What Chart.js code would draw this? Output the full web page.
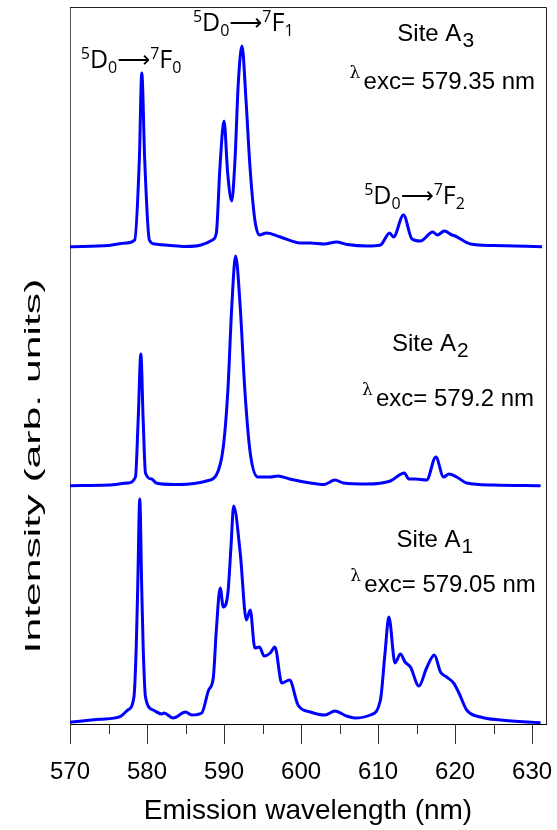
<!DOCTYPE html>
<html>
<head>
<meta charset="utf-8">
<script src="https://cdn.jsdelivr.net/npm/chart.js@4/dist/chart.umd.min.js"></script>
<style>
  html, body { margin: 0; padding: 0; background: #fff; }
  canvas { display: block; }
</style>
</head>
<body>
<canvas id="espectroChart" width="557" height="830"></canvas>
<script>
// ----------------------------------------------------------------------
// Data: emission wavelength (nm) and intensity (arb. units)
// ----------------------------------------------------------------------
const wlA1 = [570.0, 573.9, 576.5, 577.5, 578.3, 578.6, 578.8, 579.06, 579.3, 579.5, 579.8, 580.8, 581.9, 582.2, 583.4,
    585.0, 585.8, 587.1, 588.0, 588.6, 589.0, 589.5, 589.9, 590.5, 590.9, 591.25, 592.1, 592.9, 593.4, 594.0,
    594.6, 595.2, 596.0, 596.6, 597.5, 598.5, 599.6, 601.2, 603.1, 604.4, 605.9, 607.0, 609.0, 610.3, 610.9,
    611.4, 612.2, 612.9, 613.5, 614.2, 615.3, 616.3, 617.3, 618.1, 618.9, 619.8, 620.5, 621.5, 623.3, 625.9, 631.1];
const intA1 = [1.7, 4.7, 7.3, 14, 27, 77, 140, 225, 140, 77, 27, 14, 10, 11, 6,
    12, 9, 11, 34, 46, 94, 136, 117, 131, 177, 218, 171, 104, 114, 76,
    77, 68, 71, 77, 41, 44, 19, 12, 9, 13, 8, 6, 9, 24, 71,
    107, 61, 70, 62, 57, 38, 56, 69, 52, 47, 41, 31, 14, 7, 4, 1.3];

const wlA2 = [570.0, 575.0, 577.5, 578.5, 578.85, 579.2, 579.5, 579.8, 580.6, 581.2, 583.5, 585.5, 587.7, 589.0, 589.9,
    590.5, 591.0, 591.5, 592.1, 592.7, 593.4, 594.4, 596.0, 597.0, 598.5, 601.2, 603.0, 604.4, 605.5, 608.5,
    611.6, 613.4, 614.0, 614.8, 616.3, 617.5, 618.5, 619.2, 620.2, 621.5, 625.0, 631.1];
const intA2 = [0.3, 1, 3, 9, 66, 132, 66, 13, 7, 3, 1.5, 2, 5, 11, 39,
    96, 179, 230, 179, 96, 33, 9, 9, 10, 7, 3, 1.5, 6, 3, 2,
    5, 13, 7, 7, 6, 29, 9, 12, 9, 3, 1, 0.3];

const wlA3 = [570.0, 575.0, 577.3, 578.4, 579.0, 579.32, 579.7, 580.3, 581.0, 583.0, 585.0, 587.0, 588.5, 589.0, 589.47,
    590.0, 590.47, 591.0, 591.42, 591.85, 592.33, 592.85, 593.37, 594.0, 594.6, 595.5, 597.3, 599.9, 601.2, 603.0,
    604.6, 606.0, 608.6, 610.3, 611.5, 612.0, 613.3, 614.4, 615.5, 617.1, 617.7, 618.6, 619.6, 620.0, 622.0,
    625.0, 631.3];
const intA3 = [0.3, 1.5, 4, 7, 87, 174, 87, 7, 3, 1.5, 0.5, 2, 7, 14, 80,
    126, 74, 46, 87, 164, 201, 147, 80, 27, 12, 14, 10, 4, 4, 3,
    5, 2.5, 1, 2, 14, 10, 32, 8, 6, 15, 12, 16, 12, 11, 3,
    1.5, 0.3];

// vertical offsets used to stack the three spectra
const offsetA1 = 0;
const offsetA2 = 238;
const offsetA3 = 477;

const xTicks = [570, 580, 590, 600, 610, 620, 630];
const xMinorTicks = [575, 585, 595, 605, 615, 625];

// ----------------------------------------------------------------------
// Labels drawn over the plot (position in data units)
// ----------------------------------------------------------------------
const SANS = '"Liberation Sans", Arial, sans-serif';
const CALI = '"Open Sans", "Noto Sans", sans-serif';

const transitionLabels = [
    { x: 571.4, y: 656, j: '0' },
    { x: 585.96, y: 693, j: '1' },
    { x: 608.2, y: 520, j: '2' }
];
const siteLabels = [
    { x: 612.5, y: 683, site: '3', lx: 606.3, ly: 635, exc: '579.35' },
    { x: 611.8, y: 373, site: '2', lx: 607.9, ly: 318, exc: '579.2' },
    { x: 612.4, y: 177, site: '1', lx: 606.4, ly: 132, exc: '579.05' }
];

const toPoints = (wl, vals, off) => wl.map((x, i) => ({ x: x, y: vals[i] + off }));

const labelsPlugin = {
    id: 'labelsPlugin',
    afterDraw(chart) {
        const { ctx, chartArea, scales } = chart;
        const xs = scales.x, ys = scales.y;
        ctx.save();

        // top and right frame
        ctx.strokeStyle = '#222';
        ctx.lineWidth = 1;
        ctx.beginPath();
        ctx.moveTo(chartArea.left, chartArea.top + 0.5);
        ctx.lineTo(chartArea.right + 0.5, chartArea.top + 0.5);
        ctx.lineTo(chartArea.right + 0.5, chartArea.bottom);
        ctx.stroke();

        // minor ticks
        ctx.strokeStyle = '#333';
        xMinorTicks.forEach(v => {
            const px = Math.round(xs.getPixelForValue(v)) + 0.5;
            ctx.beginPath();
            ctx.moveTo(px, chartArea.bottom);
            ctx.lineTo(px, chartArea.bottom + 10);
            ctx.stroke();
        });

        ctx.fillStyle = '#000';
        ctx.textBaseline = 'alphabetic';
        ctx.textAlign = 'left';

        // 5D0 -> 7FJ
        transitionLabels.forEach(l => {
            let px = xs.getPixelForValue(l.x);
            const py = ys.getPixelForValue(l.y);
            const runs = [
                { t: '5', f: '16px ' + CALI, dy: -9 },
                { t: 'D', f: '25px ' + CALI, dy: 0 },
                { t: '0', f: '16px ' + CALI, dy: 5 },
                { t: '\u27F6', f: '23px "DejaVu Sans"', dy: -1 },
                { t: '7', f: '16px ' + CALI, dy: -9 },
                { t: 'F', f: '25px ' + CALI, dy: 0 },
                { t: l.j, f: '16px ' + CALI, dy: 5 }
            ];
            runs.forEach(r => {
                ctx.font = r.f;
                ctx.fillText(r.t, px, py + r.dy);
                px += ctx.measureText(r.t).width;
            });
        });

        // Site An and excitation wavelength
        siteLabels.forEach(l => {
            let px = xs.getPixelForValue(l.x);
            let py = ys.getPixelForValue(l.y);
            ctx.font = '24px ' + SANS;
            ctx.fillText('Site A', px, py);
            px += ctx.measureText('Site A').width;
            ctx.font = '21px ' + SANS;
            ctx.fillText(l.site, px + 1, py + 6);

            px = xs.getPixelForValue(l.lx);
            py = ys.getPixelForValue(l.ly);
            ctx.font = '17px "DejaVu Serif", serif';
            ctx.fillText('\u03BB', px, py - 11);
            ctx.font = '24px ' + SANS;
            ctx.fillText('exc= ' + l.exc + ' nm', px + 14, py);
        });

        // y axis title (stretched along the axis as in the figure)
        ctx.save();
        ctx.translate(34, 466);
        ctx.rotate(-Math.PI / 2);
        ctx.scale(1.94, 1);
        ctx.font = '22px ' + SANS;
        ctx.textAlign = 'center';
        ctx.textBaseline = 'middle';
        ctx.fillText('Intensity (arb. units)', 0, 0);
        ctx.restore();

        ctx.restore();
    }
};

const ctxEspectro = document.getElementById('espectroChart');

new Chart(ctxEspectro, {
    type: 'line',
    data: {
        datasets: [{
            label: 'Site A1',
            data: toPoints(wlA1, intA1, offsetA1),
            borderColor: '#0000ff'
        }, {
            label: 'Site A2',
            data: toPoints(wlA2, intA2, offsetA2),
            borderColor: '#0000ff'
        }, {
            label: 'Site A3',
            data: toPoints(wlA3, intA3, offsetA3),
            borderColor: '#0000ff'
        }]
    },
    options: {
        responsive: false,
        animation: false,
        layout: { padding: { top: 7, right: 11, left: 0, bottom: 0 } },
        elements: {
            point: { radius: 0 },
            line: { borderWidth: 3, cubicInterpolationMode: 'monotone', fill: false }
        },
        plugins: {
            legend: { display: false },
            tooltip: { enabled: false }
        },
        scales: {
            x: {
                type: 'linear',
                min: 570,
                max: 631.8,
                afterBuildTicks: s => { s.ticks = xTicks.map(v => ({ value: v })); },
                afterFit: s => {
                    s.height = 106;
                    s.paddingLeft = 0;
                    s.paddingRight = 0;
                },
                ticks: {
                    font: { family: SANS, size: 24 },
                    color: '#000',
                    padding: 14,
                    maxRotation: 0,
                    autoSkip: false
                },
                grid: { drawOnChartArea: false, tickLength: 20, tickColor: '#333', tickWidth: 1 },
                border: { color: '#000', width: 1 },
                title: {
                    display: true,
                    text: 'Emission wavelength (nm)',
                    font: { family: SANS, size: 28 },
                    color: '#000',
                    padding: { top: 0, bottom: 2 }
                }
            },
            y: {
                min: 0,
                max: 717,
                afterFit: s => {
                    s.width = 70;
                    s.paddingTop = 0;
                    s.paddingBottom = 0;
                },
                ticks: { display: false },
                grid: { display: false },
                border: { color: '#555', width: 1 }
            }
        }
    },
    plugins: [labelsPlugin]
});
</script>
</body>
</html>
